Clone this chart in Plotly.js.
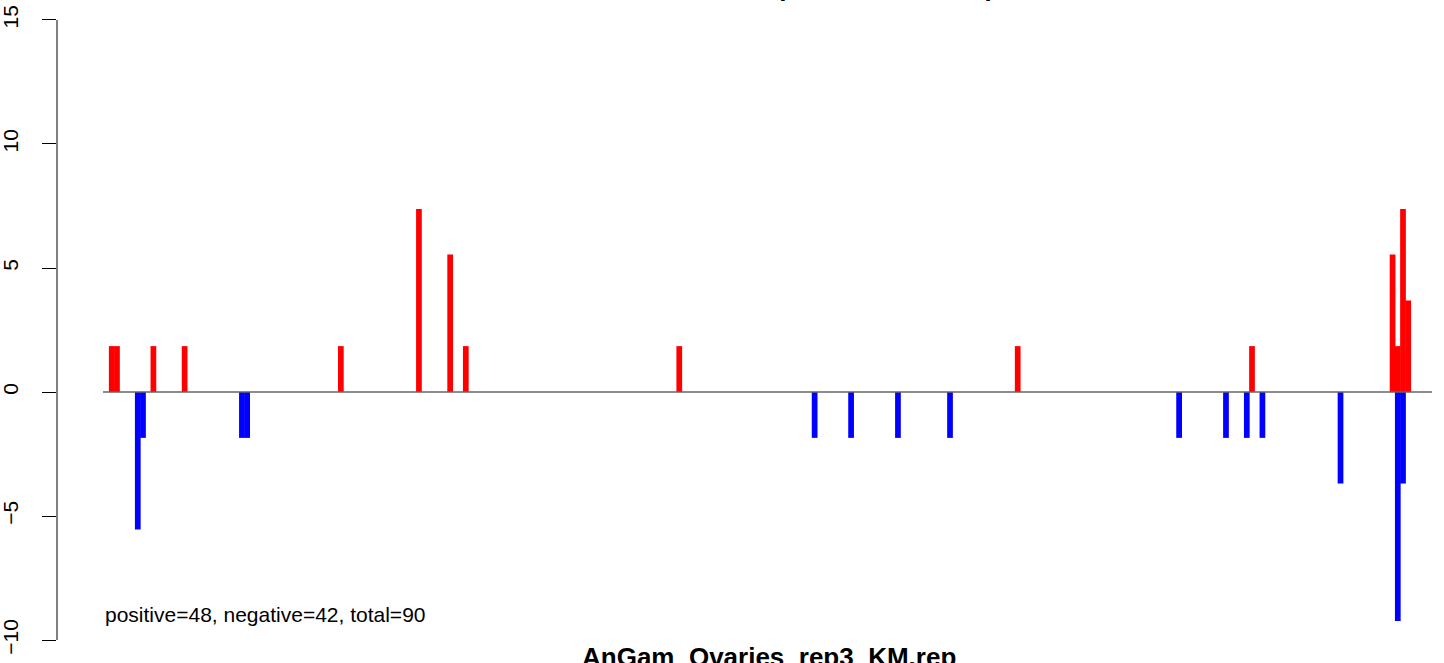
<!DOCTYPE html>
<html>
<head>
<meta charset="utf-8">
<script src="https://cdn.plot.ly/plotly-3.0.1.min.js"></script>
<style>html,body{margin:0;padding:0;background:#fff;}#chart{width:1444px;height:663px;}</style>
</head>
<body>
<div id="chart"></div>
<script>
// Positions along the sequence and normalized read values
const posX = [0, 1, 8, 14, 44, 59, 65, 68, 109, 174, 219, 246, 247, 248, 249];
const posY = [1.85, 1.85, 1.85, 1.85, 1.85, 7.38, 5.54, 1.85, 1.85, 1.85, 1.85, 5.54, 1.85, 7.38, 3.69];
const negX = [5, 6, 25, 26, 135, 142, 151, 161, 205, 214, 218, 221, 236, 247, 248];
const negY = [-5.54, -1.85, -1.85, -1.85, -1.85, -1.85, -1.85, -1.85, -1.85, -1.85, -1.85, -1.85, -3.69, -9.23, -3.69];
const yTicks = [-10, -5, 0, 5, 10, 15];
const mainTitle = "AnGam_Ovaries_rep3_sense_KM.rep";
const xTitle = "AnGam_Ovaries_rep3_KM.rep";
const statText = "positive=48, negative=42, total=90";

const FONT = "Liberation Sans, Arial, Helvetica, sans-serif";

const traces = [
  {type: "bar", x: posX, y: posY, width: 1.1, marker: {color: "#FF0000", line: {width: 0}}, hoverinfo: "x+y"},
  {type: "bar", x: negX, y: negY, width: 1.1, marker: {color: "#0000FF", line: {width: 0}}, hoverinfo: "x+y"}
];

const layout = {
  width: 1444, height: 663,
  margin: {l: 57, r: 12, t: 0, b: 0},
  paper_bgcolor: "#ffffff", plot_bgcolor: "#ffffff",
  showlegend: false,
  barmode: "overlay",
  font: {family: FONT, color: "#000"},
  xaxis: {range: [-10.515, 253.57], visible: false, fixedrange: true},
  yaxis: {
    range: [-10.927, 15.806],
    tickvals: yTicks,
    ticks: "outside", ticklen: 14, tickwidth: 1, tickcolor: "#000",
    tickangle: -90,
    ticklabelstandoff: 16,
    tickfont: {family: FONT, size: 21, color: "#000"},
    showgrid: false, zeroline: false, showline: false, fixedrange: true
  },
  shapes: [
    {type: "line", xref: "paper", yref: "y", x0: 0, x1: 0, y0: -10, y1: 15, line: {color: "#000", width: 1}},
    {type: "line", xref: "paper", yref: "y", x0: 0.03345, x1: 1, y0: 0, y1: 0, line: {color: "#666666", width: 1.3}, layer: "above"}
  ],
  annotations: [
    {text: statText, xref: "paper", yref: "paper", x: 0.03345, y: 1 - 614/663, xanchor: "left", yanchor: "middle", showarrow: false, font: {family: FONT, size: 21, color: "#000"}},
    {text: "<b>" + xTitle + "</b>", xref: "paper", yref: "paper", x: (768.5 - 57)/1375, y: 1 - 657/663, xanchor: "center", yanchor: "middle", showarrow: false, font: {family: FONT, size: 26, color: "#000"}},
    {text: "<b>" + mainTitle + "</b>", xref: "paper", yref: "paper", x: (768.5 - 57)/1375, y: 1 + 13/663, xanchor: "center", yanchor: "middle", showarrow: false, font: {family: FONT, size: 26, color: "#000"}}
  ]
};

Plotly.newPlot("chart", traces, layout, {displayModeBar: false, staticPlot: true});
</script>
</body>
</html>
